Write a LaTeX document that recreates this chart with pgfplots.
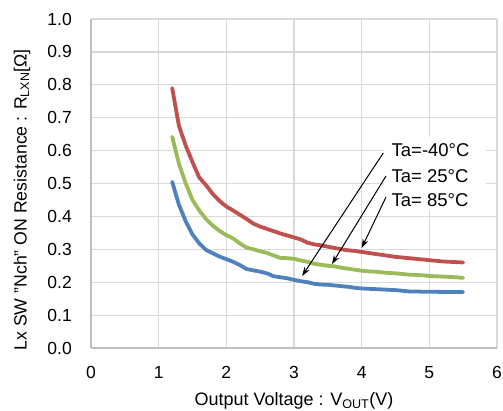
\documentclass[border=0pt]{standalone}
\usepackage{pgfplots}
\pgfplotsset{compat=1.18}
\usepackage{fontspec}
\setmainfont{Liberation Sans}
\usetikzlibrary{arrows.meta}
\definecolor{cred}{HTML}{C0504D}
\definecolor{cgreen}{HTML}{9BBB59}
\definecolor{cblue}{HTML}{4F81BD}
\definecolor{cgrid}{HTML}{D9D9D9}
\definecolor{caxis}{HTML}{BFBFBF}
\begin{document}
\begin{tikzpicture}
\useasboundingbox (-91pt,-62pt) rectangle (412pt,348pt);
\begin{axis}[
  scale only axis, width=406pt, height=329pt,
  xmin=0, xmax=6, ymin=0, ymax=1,
  xtick={0,1,2,3,4,5,6},
  ytick={0,0.1,0.2,0.3,0.4,0.5,0.6,0.7,0.8,0.9,1.0},
  /pgf/number format/assume math mode=true,
  yticklabel style={/pgf/number format/fixed, /pgf/number format/fixed zerofill, /pgf/number format/precision=1},
  yticklabel style={anchor=east, inner sep=0pt, xshift=-19pt, font=\fontsize{17.5}{21}\selectfont},
  xticklabel style={anchor=base, inner sep=0pt, yshift=-30pt, font=\fontsize{17.5}{21}\selectfont},
  major tick length=0pt,
  axis x line*=bottom, axis y line*=left,
  axis line style={draw=caxis, line width=1.2pt, -},
  grid=major,
  major grid style={draw=cgrid, line width=1.2pt},
  xlabel={Output Voltage : V\textsubscript{OUT}(V)},
  ylabel={Lx SW "Nch" ON Resistance : R\textsubscript{LXN}[Ω]},
  xlabel style={at={(axis description cs:0.5,-0.176)}, anchor=base, inner sep=0pt, font=\fontsize{18}{21}\selectfont},
  ylabel style={at={(axis description cs:-0.17,0.45)}, anchor=center, inner sep=0pt, font=\fontsize{17.7}{21}\selectfont},
  clip=false,
]
\addplot[cred, line width=3.8pt, line join=round, line cap=round] coordinates {
(1.2,0.790)(1.3,0.675)(1.4,0.615)(1.5,0.565)(1.6,0.518)(1.7,0.495)(1.8,0.468)(1.9,0.447)
(2.0,0.430)(2.1,0.418)(2.2,0.405)(2.3,0.392)(2.4,0.378)(2.5,0.369)(2.6,0.362)(2.7,0.355)
(2.8,0.348)(2.9,0.342)(3.0,0.336)(3.1,0.330)(3.2,0.320)(3.3,0.315)(3.4,0.312)(3.5,0.308)
(3.6,0.304)(3.7,0.300)(3.8,0.297)(3.9,0.295)(4.0,0.292)(4.1,0.289)(4.2,0.286)(4.3,0.283)
(4.4,0.280)(4.5,0.277)(4.6,0.275)(4.7,0.273)(4.8,0.271)(4.9,0.269)(5.0,0.267)(5.1,0.265)
(5.2,0.263)(5.3,0.262)(5.4,0.261)(5.5,0.260)};
\addplot[cgreen, line width=3.8pt, line join=round, line cap=round] coordinates {
(1.2,0.642)(1.3,0.560)(1.4,0.500)(1.5,0.450)(1.6,0.418)(1.7,0.392)(1.8,0.372)(1.9,0.356)
(2.0,0.343)(2.1,0.333)(2.2,0.318)(2.3,0.305)(2.4,0.300)(2.5,0.294)(2.6,0.289)(2.7,0.281)
(2.8,0.274)(2.9,0.273)(3.0,0.271)(3.1,0.266)(3.2,0.262)(3.3,0.256)(3.4,0.253)(3.5,0.250)
(3.6,0.248)(3.7,0.244)(3.8,0.241)(3.9,0.238)(4.0,0.235)(4.1,0.233)(4.2,0.232)(4.3,0.230)
(4.4,0.228)(4.5,0.227)(4.6,0.225)(4.7,0.223)(4.8,0.222)(4.9,0.221)(5.0,0.219)(5.1,0.218)
(5.2,0.217)(5.3,0.216)(5.4,0.215)(5.5,0.213)};
\addplot[cblue, line width=3.8pt, line join=round, line cap=round] coordinates {
(1.2,0.505)(1.3,0.435)(1.4,0.385)(1.5,0.345)(1.6,0.318)(1.7,0.298)(1.8,0.288)(1.9,0.278)
(2.0,0.270)(2.1,0.262)(2.2,0.252)(2.3,0.240)(2.4,0.236)(2.5,0.232)(2.6,0.227)(2.7,0.218)
(2.8,0.215)(2.9,0.212)(3.0,0.207)(3.1,0.203)(3.2,0.200)(3.3,0.195)(3.4,0.193)(3.5,0.192)
(3.6,0.190)(3.7,0.188)(3.8,0.186)(3.9,0.183)(4.0,0.181)(4.1,0.180)(4.2,0.179)(4.3,0.178)
(4.4,0.177)(4.5,0.176)(4.6,0.174)(4.7,0.172)(4.8,0.172)(4.9,0.171)(5.0,0.171)(5.1,0.171)
(5.2,0.170)(5.3,0.170)(5.4,0.170)(5.5,0.170)};
\fill[white] (axis cs:4.33,0.641) rectangle (axis cs:5.83,0.419);
\draw[line width=1pt, -{Stealth[length=9pt,width=6pt]}] (axis cs:4.32,0.593) -- (axis cs:3.12,0.219);
\draw[line width=1pt, -{Stealth[length=9pt,width=6pt]}] (axis cs:4.36,0.523) -- (axis cs:3.56,0.255);
\draw[line width=1pt, -{Stealth[length=9pt,width=6pt]}] (axis cs:4.36,0.459) -- (axis cs:4.00,0.304);
\node[anchor=base west, inner sep=0pt, font=\fontsize{18.5}{22}\selectfont] at (axis cs:4.44,0.581) {Ta=-40°C};
\node[anchor=base west, inner sep=0pt, font=\fontsize{18.5}{22}\selectfont] at (axis cs:4.44,0.502) {Ta= 25°C};
\node[anchor=base west, inner sep=0pt, font=\fontsize{18.5}{22}\selectfont] at (axis cs:4.44,0.429) {Ta= 85°C};
\end{axis}
\end{tikzpicture}
\end{document}
